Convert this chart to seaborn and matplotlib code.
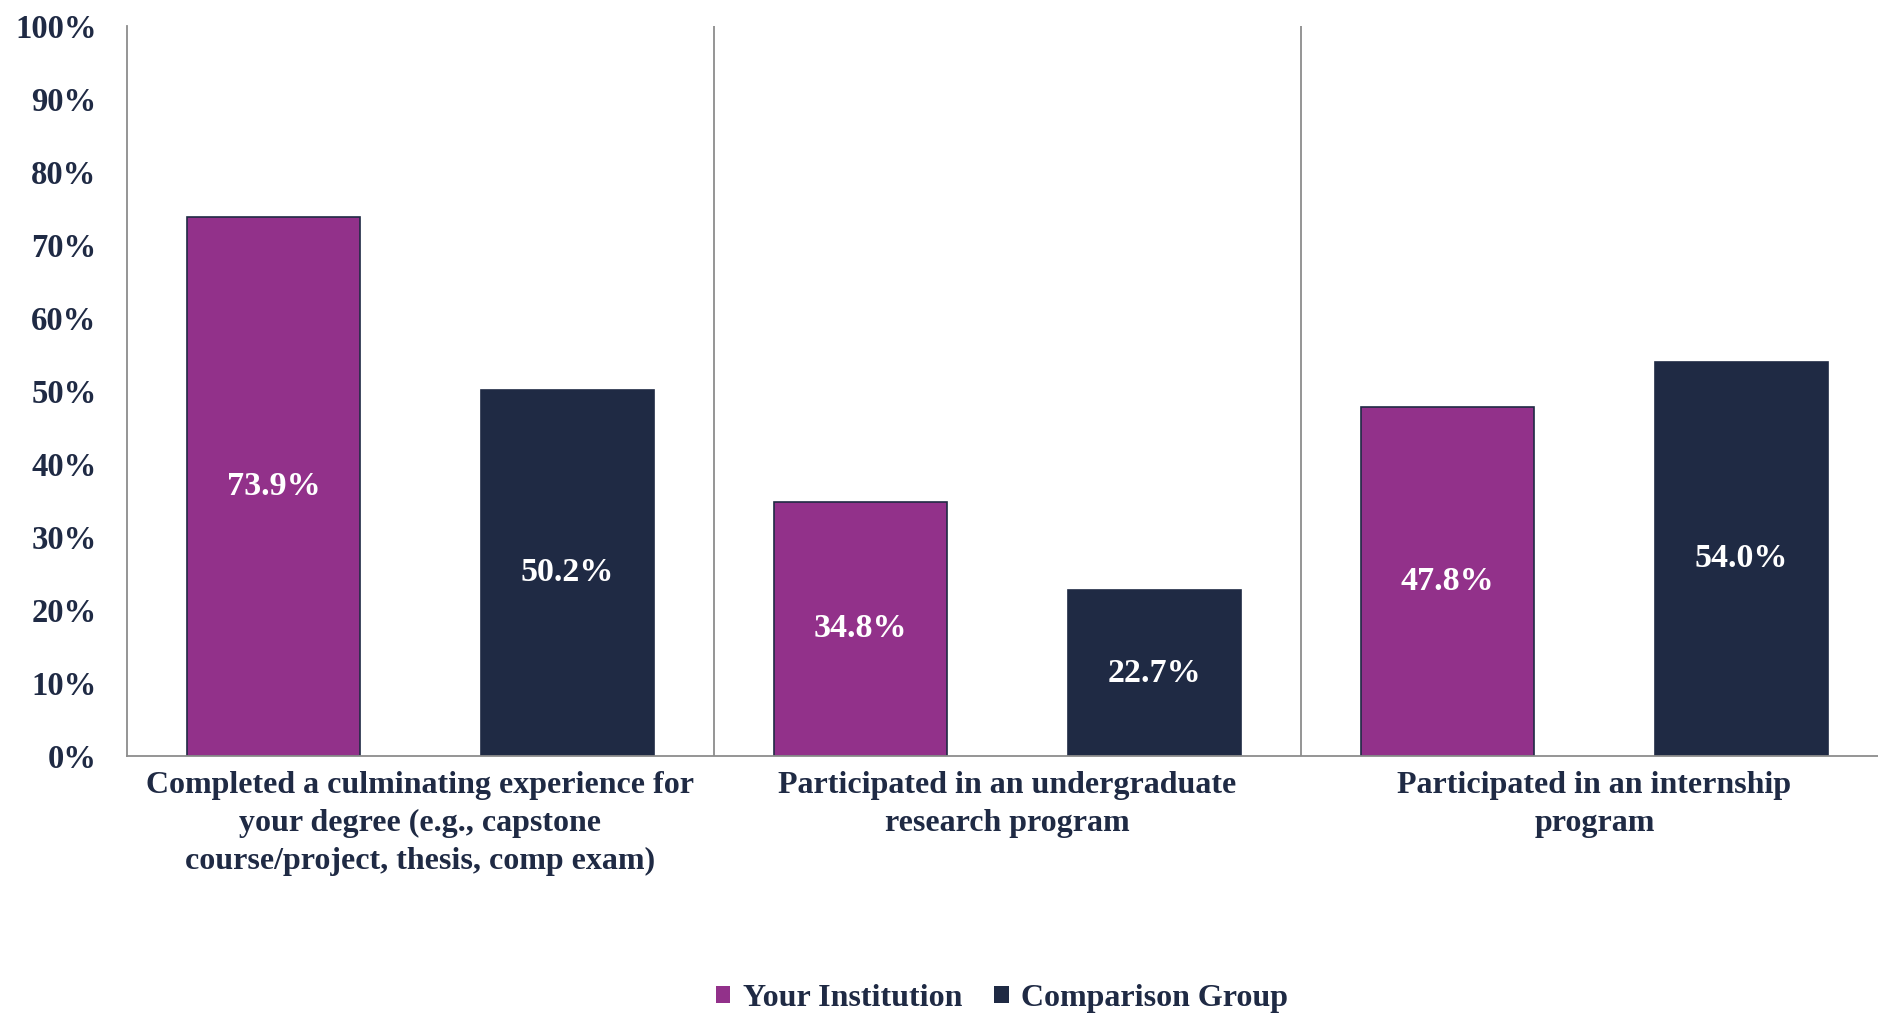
import seaborn as sns
import matplotlib.pyplot as plt
import pandas as pd
from matplotlib.ticker import PercentFormatter

# --- data ---
categories = [
    "Completed a culminating experience for\nyour degree (e.g., capstone\ncourse/project, thesis, comp exam)",
    "Participated in an undergraduate\nresearch program",
    "Participated in an internship\nprogram",
]
groups = ["Your Institution", "Comparison Group"]
your_institution = [0.739, 0.348, 0.478]
comparison_group = [0.502, 0.227, 0.540]
y_ticks = [i / 10 for i in range(11)]

PURPLE = "#92318A"
NAVY = "#1F2A44"
GRAY = "#8C8C8C"

df = pd.DataFrame({
    "category": categories * 2,
    "group": [groups[0]] * 3 + [groups[1]] * 3,
    "value": your_institution + comparison_group,
})

sns.set_theme(style="white")
plt.rcParams["font.family"] = ["Liberation Serif", "DejaVu Serif"]
plt.rcParams["font.weight"] = "bold"

fig = plt.figure(figsize=(18.78, 10.15), dpi=100)
# the last category runs a little past the right edge of the picture
ax = fig.add_axes([0.0676, 0.2552, 0.9377, 0.7192])

sns.barplot(data=df, x="category", y="value", hue="group", order=categories,
            hue_order=groups, palette=[PURPLE, NAVY], width=1.0, gap=0.41,
            edgecolor=NAVY, linewidth=1.2, saturation=1, ax=ax)

for cont, vals in zip(ax.containers, [your_institution, comparison_group]):
    ax.bar_label(cont, labels=[f"{v * 100:.1f}%" for v in vals], label_type="center",
                 color="white", fontsize=24.5, fontweight="bold")

ax.set_xlim(-0.5, len(categories) - 0.5)
ax.set_ylim(0, 1)
ax.set_yticks(y_ticks)
ax.yaxis.set_major_formatter(PercentFormatter(1.0, decimals=0))
ax.set_xlabel("")
ax.set_ylabel("")

# separators between categories
for i in range(1, len(categories)):
    ax.axvline(i - 0.5, color=GRAY, linewidth=1.3, zorder=0)

for side in ["top", "right"]:
    ax.spines[side].set_visible(False)
for side in ["left", "bottom"]:
    ax.spines[side].set_color(GRAY)
    ax.spines[side].set_linewidth(1.3)

ax.tick_params(axis="y", length=0, pad=22, labelsize=23.5, labelcolor=NAVY)
ax.tick_params(axis="x", length=0, pad=11, labelsize=23, labelcolor=NAVY)
for lab in ax.get_xticklabels():
    lab.set_linespacing(1.4)
    lab.set_fontweight("bold")
for lab in ax.get_yticklabels():
    lab.set_fontweight("bold")

sns.move_legend(ax, "center", bbox_to_anchor=(0.497, -0.332), ncol=2, frameon=False,
                title=None, fontsize=23, handlelength=0.45, handleheight=0.45,
                handletextpad=0.4, columnspacing=1.0)
leg = ax.get_legend()
for t in leg.get_texts():
    t.set_color(NAVY)
    t.set_fontweight("bold")
for h in leg.legend_handles:
    h.set_edgecolor("none")

fig.savefig("out.png", dpi=100)
